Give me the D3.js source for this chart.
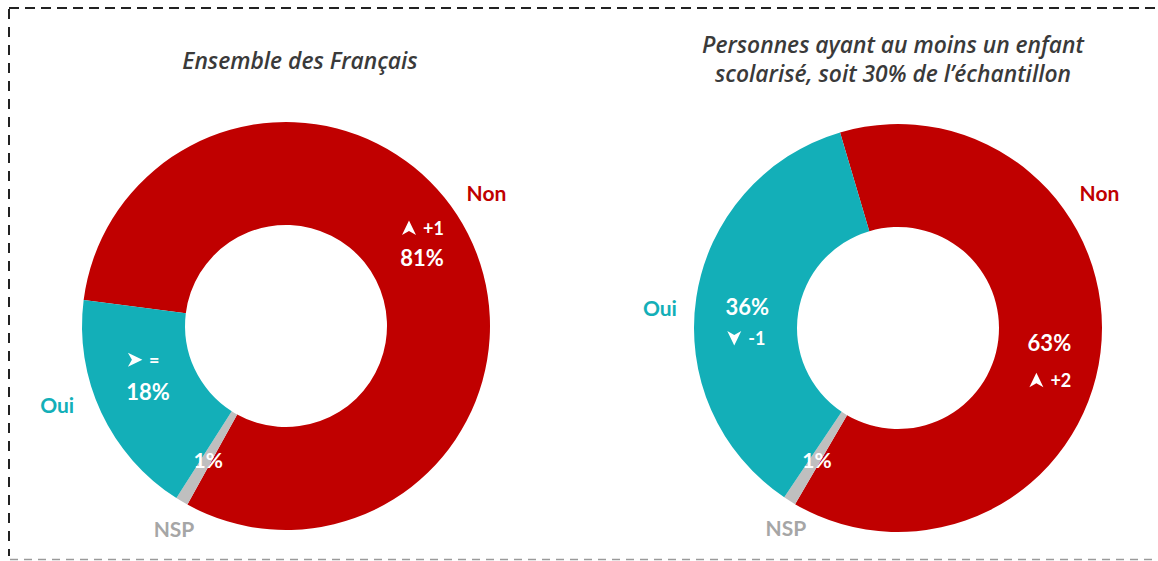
<!DOCTYPE html>
<html>
<head>
<meta charset="utf-8">
<script src="https://cdn.jsdelivr.net/npm/d3@7"></script>
<style>
  html, body { margin: 0; padding: 0; background: #fff; }
  svg { display: block; font-family: Lato, "Open Sans", sans-serif; }
</style>
</head>
<body>
<svg id="chart" width="1158" height="561"></svg>
<script>
// ---- data ----
const categories = ["Non", "NSP", "Oui"];
const ensembleValues = [81, 1, 18];
const parentsValues = [63, 1, 36];
const ensembleEvolution = ["+1", null, "="];
const ensembleDirection = ["up", null, "right"];
const parentsEvolution = ["+2", null, "-1"];
const parentsDirection = ["up", null, "down"];
const titles = [
  ["Ensemble des Français"],
  ["Personnes ayant au moins un enfant", "scolarisé, soit 30% de l\u2019échantillon"]
];

// ---- styles / layout ----
const colors = { "Non": "#C00000", "NSP": "#BFBFBF", "Oui": "#13AFB8" };
const labelColors = { "Non": "#C00000", "NSP": "#A6A6A6", "Oui": "#13AFB8" };
const charts = [
  {
    values: ensembleValues, evo: ensembleEvolution, dir: ensembleDirection, title: titles[0],
    cx: 286, cy: 326, R: 204, r: 101, startDeg: -82.7,
    titleX: 300, titleY: 60,
    outer: { "Non": [56.3, 241], "NSP": [209, 231], "Oui": [251, 242] },
    pctDy: { "Non": 0, "NSP": 2, "Oui": 1 },
    evoDy: { "Non": -29, "Oui": -31 }
  },
  {
    values: parentsValues, evo: parentsEvolution, dir: parentsDirection, title: titles[1],
    cx: 898, cy: 328, R: 204, r: 101, startDeg: -16.5,
    titleX: 893, titleY: 44,
    outer: { "Non": [56, 243], "NSP": [209.3, 229], "Oui": [275, 239] },
    pctDy: { "Non": -4, "NSP": 2, "Oui": 2 },
    evoDy: { "Non": 34, "Oui": 33 }
  }
];

const svg = d3.select("#chart");

// dashed frame
svg.append("line").attr("x1", 9).attr("y1", 8).attr("x2", 1158).attr("y2", 8)
  .attr("stroke", "#222").attr("stroke-width", 2).attr("stroke-dasharray", "10,6");
svg.append("line").attr("x1", 9).attr("y1", 9).attr("x2", 9).attr("y2", 556)
  .attr("stroke", "#222").attr("stroke-width", 2).attr("stroke-dasharray", "10,8");
svg.append("line").attr("x1", 10).attr("y1", 559.5).attr("x2", 1158).attr("y2", 559.5)
  .attr("stroke", "#9a9a9a").attr("stroke-width", 1.5).attr("stroke-dasharray", "8,6");

const rad = d => d * Math.PI / 180;

function arrowPath(dir) {
  const pts = [[0, -7.5], [7, 7], [0, 3], [-7, 7]];
  const rot = { up: 0, right: 90, down: 180 }[dir];
  const a = rad(rot);
  const p = pts.map(([x, y]) => [x * Math.cos(a) - y * Math.sin(a), x * Math.sin(a) + y * Math.cos(a)]);
  return "M" + p.map(q => q.join(",")).join("L") + "Z";
}

charts.forEach(c => {
  const data = categories.map((cat, i) => ({ cat, value: c.values[i], evo: c.evo[i], dir: c.dir[i] }));
  const pie = d3.pie().sort(null).value(d => d.value)
    .startAngle(rad(c.startDeg)).endAngle(rad(c.startDeg) + 2 * Math.PI);
  const arcs = pie(data);
  const arc = d3.arc().innerRadius(c.r).outerRadius(c.R);
  const g = svg.append("g").attr("transform", `translate(${c.cx},${c.cy})`);

  g.selectAll("path.slice").data(arcs).join("path")
    .attr("class", "slice")
    .attr("d", arc)
    .attr("fill", d => colors[d.data.cat]);

  arcs.forEach(a => {
    const [x, y] = arc.centroid(a);
    const isSmall = a.data.value < 5;
    g.append("text")
      .attr("x", x).attr("y", y + c.pctDy[a.data.cat])
      .attr("text-anchor", "middle").attr("dominant-baseline", "central")
      .attr("fill", "#fff").attr("font-weight", 700)
      .attr("font-size", isSmall ? 21 : 22)
      .text(a.data.value + "%");
    if (a.data.evo) {
      const ey = y + c.evoDy[a.data.cat];
      g.append("path").attr("d", arrowPath(a.data.dir))
        .attr("transform", `translate(${x - 13},${ey})`)
        .attr("fill", "#fff");
      g.append("text")
        .attr("x", x + 1).attr("y", ey)
        .attr("text-anchor", "start").attr("dominant-baseline", "central")
        .attr("fill", "#fff").attr("font-weight", 700).attr("font-size", 18)
        .text(a.data.evo);
    }
  });

  categories.forEach(cat => {
    const [ang, rr] = c.outer[cat];
    g.append("text")
      .attr("x", rr * Math.sin(rad(ang)))
      .attr("y", -rr * Math.cos(rad(ang)))
      .attr("text-anchor", "middle").attr("dominant-baseline", "central")
      .attr("fill", labelColors[cat]).attr("font-weight", 700).attr("font-size", 21)
      .text(cat);
  });

  c.title.forEach((line, i) => {
    svg.append("text")
      .attr("x", c.titleX).attr("y", c.titleY + i * 29)
      .attr("text-anchor", "middle").attr("dominant-baseline", "central")
      .attr("fill", "#3a3a3a").attr("font-style", "italic").attr("font-weight", 600)
      .attr("font-family", "'Open Sans', Lato, sans-serif")
      .attr("font-size", 22.8)
      .text(line);
  });
});
</script>
</body>
</html>
